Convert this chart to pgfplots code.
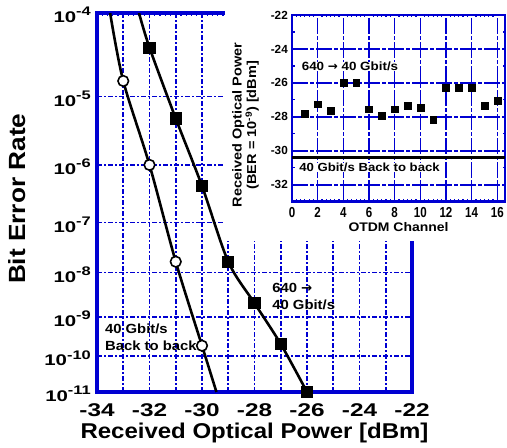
\documentclass[border=0pt]{standalone}
\usepackage{fontspec}
\setmainfont{Liberation Sans}
\newfontfamily\tickfont{Liberation Sans}[FakeStretch=1.32]
\newfontfamily\labfont{Liberation Sans}[FakeStretch=1.12]
\newfontfamily\narrowfont{Liberation Sans}[FakeStretch=0.8]
\newfontfamily\arrowfont{DejaVu Sans}
\usepackage{pgfplots}
\usepackage{pgfplotstable}
\pgfplotsset{compat=1.18}
\definecolor{gblue}{RGB}{0,0,210}
\newcommand{\ep}[1]{10\raisebox{0.42em}{\fontsize{12.5}{12}\selectfont #1}}

% Main BER curves: received power [dBm], BER
\pgfplotstableread{
p ber
-33.5 1e-4
-33 1.6e-5
-32 1e-6
-31 1.7e-8
-30 1.9e-10
-29.45 1e-11
}\btbdata
\pgfplotstableread{
p ber
-32.4 1e-4
-32 4.1e-5
-31 5e-6
-30 4.5e-7
-29 1.7e-8
-28 2.1e-9
-27 2.1e-10
-26 1e-11
}\otdmdata
% Inset: sensitivity per OTDM channel
\pgfplotstableread{
ch pw
1 -27.8
2 -27.25
3 -27.65
4 -26.0
5 -26.0
6 -27.55
7 -27.95
8 -27.55
9 -27.35
10 -27.45
11 -28.15
12 -26.3
13 -26.3
14 -26.3
15 -27.35
16 -27.05
}\chdata

\begin{document}
\begin{tikzpicture}
\useasboundingbox (0bp,0bp) rectangle (507bp,448bp);
\begin{axis}[
  at={(97bp,56bp)}, anchor=south west,
  scale only axis, width=315bp, height=379bp,
  xmin=-34, xmax=-22,
  ymin=0.60206, ymax=1.041393, y dir=reverse,
  xtick={-34,-33,...,-22},
  xticklabels={-34,,-32,,-30,,-28,,-26,,-24,,-22},
  minor x tick num=4,
  ytick={0.60206,0.69897,0.778151,0.845098,0.90309,0.954243,1,1.041393},
  yticklabels={\ep{-4},\ep{-5},\ep{-6},\ep{-7},\ep{-8},\ep{-9},\ep{-10},\ep{-11}},
  grid=major,
  major grid style={gblue, line width=1.6bp, dash pattern=on 5bp off 2bp on 2bp off 2bp},
  axis line style={gblue, line width=3.2bp},
  tick style={gblue, line width=1.2bp},
  major tick length=0pt, minor tick length=2.5bp,
  tick align=inside,
  xticklabel style={font=\tickfont\bfseries\fontsize{18.5}{20}\selectfont, anchor=base, yshift=-24.5bp},
  yticklabel style={font=\tickfont\bfseries\fontsize{15.5}{18}\selectfont, anchor=east, inner sep=0pt, xshift=-6bp, yshift=-2bp},
  xlabel={Received Optical Power [dBm]},
  xlabel style={font=\labfont\bfseries\fontsize{21.5}{24}\selectfont, at={(axis description cs:0.5,-0.108)}, anchor=center},
  ylabel={Bit Error Rate},
  ylabel style={font=\labfont\bfseries\fontsize{23.5}{26}\selectfont, at={(axis description cs:-0.255,0.51)}, anchor=center},
  clip mode=individual,
]
\addplot[black, line width=2.6bp, smooth, mark=*, mark indices={1,2,3,4}, mark size=5.3bp,
  mark options={fill=white, draw=black, line width=1.6bp, solid}]
  table[x=p, y expr={ln(-ln(\thisrow{ber})/2.302585093)/2.302585093}] {\btbdata};
\addplot[black, line width=2.6bp, smooth, mark=square*, mark indices={1,2,3,4,5,6,7}, mark size=4.8bp,
  mark options={solid}]
  table[x=p, y expr={ln(-ln(\thisrow{ber})/2.302585093)/2.302585093}] {\otdmdata};
\node[anchor=west, align=left, inner sep=0pt, font=\labfont\bfseries\fontsize{13.3}{17.5}\selectfont]
  at (rel axis cs:0.556,0.252) {640 {\arrowfont\bfseries →}\\40 Gbit/s};
\node[anchor=west, align=left, inner sep=0pt, font=\labfont\bfseries\fontsize{13.3}{17.5}\selectfont]
  at (rel axis cs:0.025,0.145) {40 Gbit/s\\Back to back};
\end{axis}
\fill[white] (225bp,207bp) rectangle (507bp,448bp);
\begin{axis}[
  at={(292bp,246.3bp)}, anchor=south west,
  scale only axis, width=213bp, height=186.7bp,
  xmin=0, xmax=16.6, ymin=-33, ymax=-22,
  xtick={0,2,...,16}, ytick={-32,-30,...,-22},
  xticklabels={0,2,4,6,8,10,12,14,16},
  yticklabels={-32,-30,-28,-26,-24,-22},
  minor x tick num=5, minor y tick num=1,
  axis background/.style={fill=white},
  grid=major,
  major grid style={gblue, line width=1.6bp, dash pattern=on 16bp off 2bp on 4bp off 2bp},
  axis line style={gblue, line width=2.8bp},
  tick style={gblue, line width=1.2bp},
  major tick length=0pt, minor tick length=2.5bp,
  tick align=inside,
  xticklabel style={font=\narrowfont\bfseries\fontsize{14.5}{16}\selectfont, anchor=base, yshift=-15.6bp},
  yticklabel style={font=\bfseries\fontsize{11.8}{14}\selectfont, anchor=east, inner sep=0pt, xshift=-4bp},
  xlabel={OTDM Channel},
  xlabel style={font=\labfont\bfseries\fontsize{12.5}{14}\selectfont, at={(axis description cs:0.5,-0.135)}, anchor=center},
  ylabel={Received Optical Power\\(BER = 10\textsuperscript{-9}) [dBm]},
  ylabel style={font=\labfont\bfseries\fontsize{13}{14.5}\selectfont, align=center, at={(axis description cs:-0.218,0.41)}, anchor=center},
  clip mode=individual,
]
\addplot[black, line width=2.4bp] coordinates {(0,-30.4) (16.6,-30.4)};
\addplot[only marks, mark=square*, mark size=3.4bp, black] table[x=ch, y=pw] {\chdata};
\node[anchor=west, inner sep=0pt, font=\labfont\bfseries\fontsize{12}{14}\selectfont, fill=white]
  at (axis cs:0.75,-25.05) {640 {\arrowfont\bfseries →} 40 Gbit/s};
\node[anchor=west, inner sep=0pt, font=\labfont\bfseries\fontsize{11.8}{14}\selectfont, fill=white]
  at (axis cs:0.55,-31.0) {40 Gbit/s Back to back};
\end{axis}
\end{tikzpicture}
\end{document}
